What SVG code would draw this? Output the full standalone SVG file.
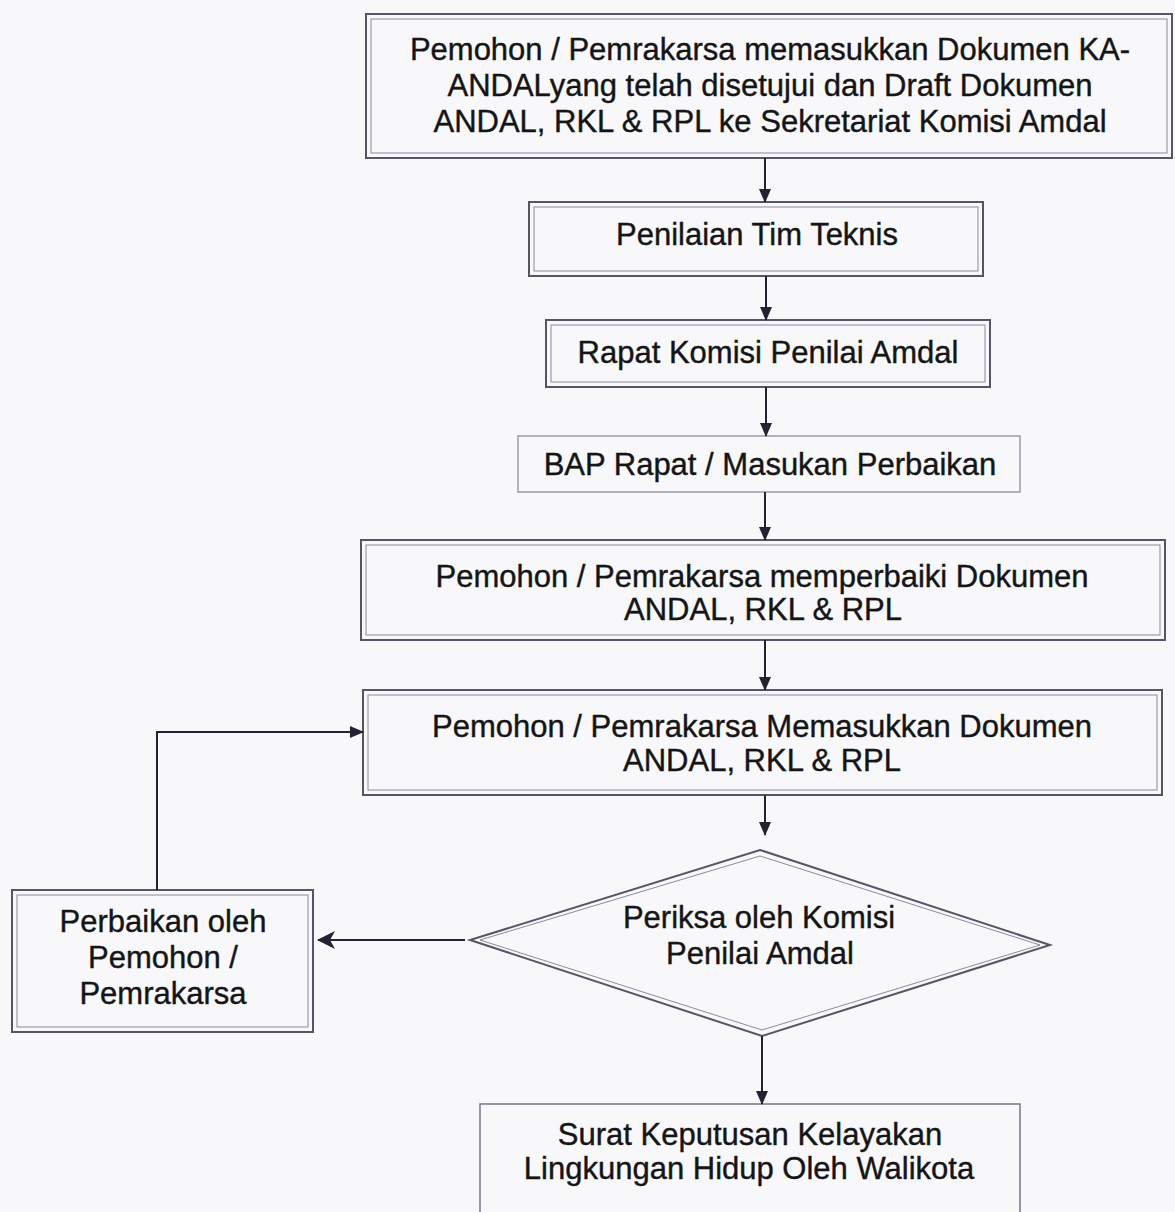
<svg xmlns="http://www.w3.org/2000/svg" width="1175" height="1212" viewBox="0 0 1175 1212">
<style>
.t{font-family:"Liberation Sans",Arial,sans-serif;font-size:31px;fill:#151515;stroke:#151515;stroke-width:0.4;text-anchor:middle}
.bo{fill:none;stroke:#555566;stroke-width:2}
.bi{fill:none;stroke:#8a8a9a;stroke-width:1}
.c{fill:none;stroke:#222233;stroke-width:2}
</style>
<defs>
<marker id="ah" markerWidth="14" markerHeight="14" refX="13" refY="7" orient="auto" markerUnits="userSpaceOnUse"><path d="M0,1 L14,7 L0,13 Z" fill="#222233"/></marker>
<marker id="ahb" markerWidth="18" markerHeight="18" refX="17" refY="9" orient="auto" markerUnits="userSpaceOnUse"><path d="M0,0 L18,9 L0,18 L5,9 Z" fill="#222233"/></marker>
</defs>
<rect width="1175" height="1212" fill="#f8f8fb"/>
<g id="n1"><rect class="bo" x="366" y="14" width="806" height="144"/><rect class="bi" x="371" y="19" width="796" height="134"/>
<text class="t" x="770" y="60">Pemohon / Pemrakarsa memasukkan Dokumen KA-</text>
<text class="t" x="770" y="96">ANDALyang telah disetujui dan Draft Dokumen</text>
<text class="t" x="770" y="132">ANDAL, RKL &amp; RPL ke Sekretariat Komisi Amdal</text></g>
<g id="n2"><rect class="bo" x="529" y="202" width="454" height="74"/><rect class="bi" x="534" y="207" width="444" height="64"/>
<text class="t" x="757" y="245">Penilaian Tim Teknis</text></g>
<g id="n3"><rect class="bo" x="546" y="320" width="444" height="67"/><rect class="bi" x="551" y="325" width="434" height="57"/>
<text class="t" x="768" y="363">Rapat Komisi Penilai Amdal</text></g>
<g id="n4"><rect class="bi" x="518" y="436" width="502" height="56" style="stroke:#9a9aaa;stroke-width:1.5"/>
<text class="t" x="770" y="475">BAP Rapat / Masukan Perbaikan</text></g>
<g id="n5"><rect class="bo" x="361" y="540" width="804" height="100"/><rect class="bi" x="366" y="545" width="794" height="90"/>
<text class="t" x="762" y="587">Pemohon / Pemrakarsa memperbaiki Dokumen</text>
<text class="t" x="763" y="620">ANDAL, RKL &amp; RPL</text></g>
<g id="n6"><rect class="bo" x="363" y="690" width="799" height="105"/><rect class="bi" x="368" y="695" width="789" height="95"/>
<text class="t" x="762" y="737">Pemohon / Pemrakarsa Memasukkan Dokumen</text>
<text class="t" x="762" y="771">ANDAL, RKL &amp; RPL</text></g>
<g id="n7"><polygon class="bo" points="760,850 1050,945 762,1036 470,940"/><polygon class="bi" points="760,856 1040,945 762,1030 480,940"/>
<text class="t" x="759" y="928">Periksa oleh Komisi</text>
<text class="t" x="760" y="964">Penilai Amdal</text></g>
<g id="n8"><rect class="bo" x="12" y="890" width="301" height="142"/><rect class="bi" x="17" y="895" width="291" height="132"/>
<text class="t" x="163" y="932">Perbaikan oleh</text>
<text class="t" x="163" y="968">Pemohon /</text>
<text class="t" x="163" y="1004">Pemrakarsa</text></g>
<g id="n9"><rect class="bi" x="480" y="1104" width="540" height="120" style="stroke:#777788;stroke-width:1.5"/>
<text class="t" x="750" y="1145">Surat Keputusan Kelayakan</text>
<text class="t" x="749" y="1179">Lingkungan Hidup Oleh Walikota</text></g>
<g id="connectors">
<line class="c" x1="765" y1="158" x2="765" y2="202" marker-end="url(#ah)"/>
<line class="c" x1="766" y1="276" x2="766" y2="320" marker-end="url(#ah)"/>
<line class="c" x1="766" y1="387" x2="766" y2="436" marker-end="url(#ah)"/>
<line class="c" x1="765" y1="492" x2="765" y2="540" marker-end="url(#ah)"/>
<line class="c" x1="765" y1="640" x2="765" y2="690" marker-end="url(#ah)"/>
<line class="c" x1="765" y1="795" x2="765" y2="835" marker-end="url(#ah)"/>
<line class="c" x1="762" y1="1036" x2="762" y2="1104" marker-end="url(#ah)"/>
<line class="c" x1="465" y1="940" x2="318" y2="940" marker-end="url(#ahb)"/>
<polyline class="c" points="157,890 157,732 363,732" marker-end="url(#ah)"/>
</g>
</svg>
